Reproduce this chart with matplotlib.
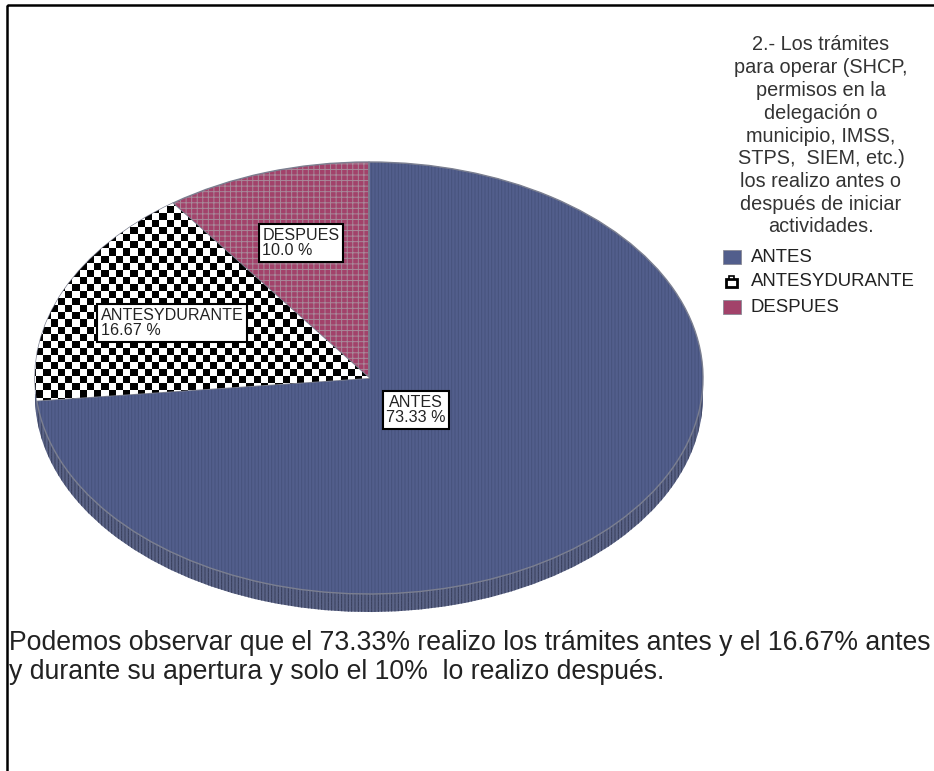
import numpy as np
import matplotlib
matplotlib.use('Agg')
import matplotlib.pyplot as plt
from matplotlib.patches import Rectangle

plt.rcParams['font.family'] = ['Liberation Sans', 'DejaVu Sans']
plt.rcParams['hatch.linewidth'] = 0.7

W, H = 934, 771

# datos
categorias = ['ANTES', 'ANTESYDURANTE', 'DESPUES']
valores = [73.33, 16.67, 10.0]
etiquetas = ['73.33 %', '16.67 %', '10.0 %']
colores = ['#525e8c', '#ffffff', '#a2426a']
titulo = ['2.- Los trámites', 'para operar (SHCP,', 'permisos en la', 'delegación o',
          'municipio, IMSS,', 'STPS,  SIEM, etc.)', 'los realizo antes o',
          'después de iniciar', 'actividades.']
nota = ['Podemos observar que el 73.33% realizo los trámites antes y el 16.67% antes',
        'y durante su apertura y solo el 10%  lo realizo después.']

fig = plt.figure(figsize=(W / 100, H / 100), dpi=100, facecolor='white')

# capa de fondo en pixeles
bg = fig.add_axes([0, 0, 1, 1])
bg.set_xlim(0, W)
bg.set_ylim(H, 0)
bg.axis('off')
bg.add_patch(Rectangle((7, 5), 940, 790, fill=False, ec='black', lw=1.8))

# pastel: elipse centrada en (369, 378), radios 334 x 216
cx, cy, rx, ry = 369, 378, 334, 216
ax = fig.add_axes([(cx - rx) / W, 1 - (cy + ry) / H, 2 * rx / W, 2 * ry / H])
ax.patch.set_alpha(0)

# lateral del pastel, de abajo hacia arriba
prof = 18 / ry
for d in np.arange(prof, 0, -0.012):
    ax.pie(valores, colors=['#5b6488'] * 3, startangle=90, counterclock=False, radius=1,
           center=(0, -d), wedgeprops={'hatch': '|||||', 'edgecolor': '#363d58', 'linewidth': 0})

# cara superior
cunas, _ = ax.pie(valores, colors=colores, startangle=90, counterclock=False, radius=1,
                  wedgeprops={'linewidth': 0})
cunas[0].set_hatch('|||||')
cunas[0].set_edgecolor('#47527c')
cunas[2].set_hatch('+++')
cunas[2].set_edgecolor('#a8899a')
ax.pie(valores, startangle=90, counterclock=False, radius=1,
       wedgeprops={'fill': False, 'edgecolor': '#7b7f90', 'linewidth': 1.0})
ax.set_xlim(-1, 1)
ax.set_ylim(-1, 1)
ax.set_aspect('auto')

# tablero de la cuña ANTESYDURANTE
yy, xx = np.indices((80, 120))
tablero = ((xx + yy) % 2).astype(float)
img = bg.imshow(tablero, cmap='gray', extent=(0, 7.25 * 120, 7.1 * 80, 0), zorder=5,
                interpolation='nearest', aspect='auto')
bg.set_xlim(0, W)
bg.set_ylim(H, 0)
img.set_clip_path(cunas[1].get_path(), cunas[1].get_transform())
ax.set_zorder(1)
bg.set_zorder(2)
bg.patch.set_alpha(0)

# etiquetas de las cuñas
cajas = {'ANTES': (416, 410), 'ANTESYDURANTE': (172, 323), 'DESPUES': (301, 243)}
for c, e in zip(categorias, etiquetas):
    bg.text(*cajas[c], c + '\n' + e, fontsize=11.6, ha='center', va='center', zorder=6,
            linespacing=1.0, multialignment='left' if c != 'ANTES' else 'center', color='#222222',
            bbox=dict(boxstyle='square,pad=0.22', fc='white', ec='black', lw=1.5))

# titulo de la leyenda
bg.text(821, 136, '\n'.join(titulo), fontsize=14.3, ha='center', va='center', linespacing=1.25,
        color='#333333', zorder=6)

# leyenda
ys = [257, 282, 307]
for c, col, y in zip(categorias, ['#525e8c', None, '#a2426a'], ys):
    if col:
        bg.add_patch(Rectangle((723, y - 7), 18, 14, fc=col, ec='#8a8a96', lw=0.6, zorder=6))
    else:
        bg.add_patch(Rectangle((726, y - 3), 11, 8, fc='white', ec='black', lw=2, zorder=6))
        bg.add_patch(Rectangle((729, y - 6), 5, 3, fc='white', ec='black', lw=1.2, zorder=6))
    bg.text(751, y, c, fontsize=13.4, va='center', color='#222222', zorder=6)

# nota
bg.text(9, 643, nota[0], fontsize=19.15, va='center', color='#222222', zorder=6)
bg.text(9, 672, nota[1], fontsize=19.15, va='center', color='#222222', zorder=6)

fig.savefig('out.png', dpi=100)
